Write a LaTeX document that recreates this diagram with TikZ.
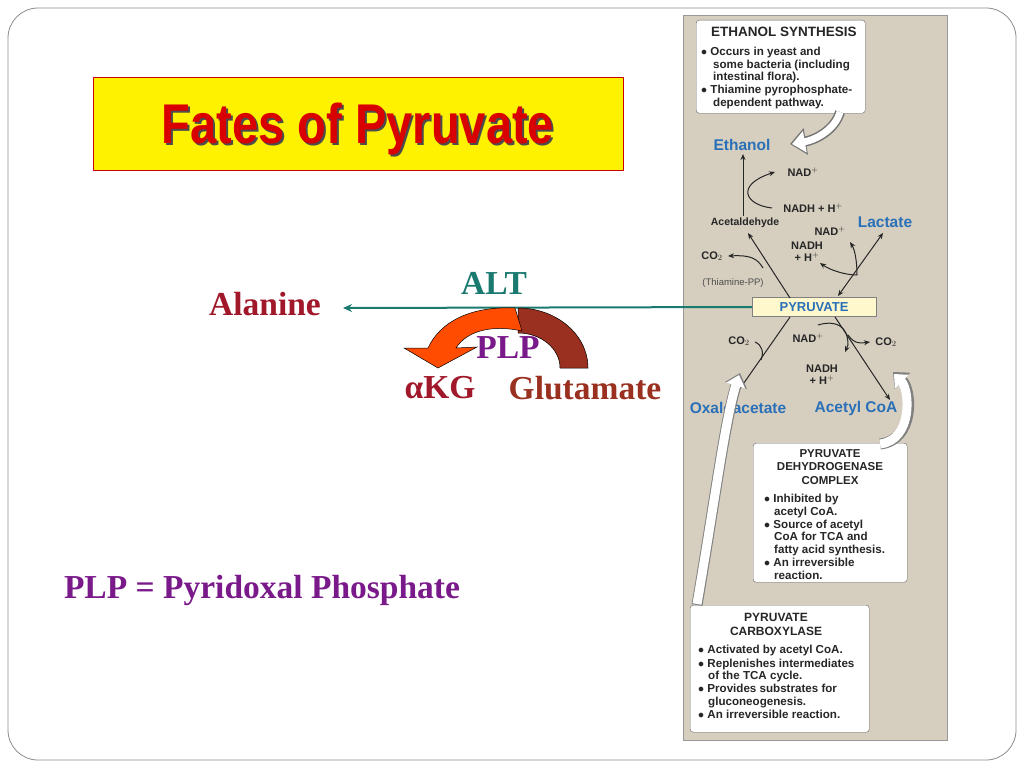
\documentclass[tikz,border=0pt]{standalone}
\usepackage{fontspec}
\setmainfont{Liberation Serif}
\setsansfont{Liberation Sans}
\usetikzlibrary{arrows.meta}
\definecolor{beige}{HTML}{D6CFC0}
\definecolor{teal2}{HTML}{1A7A70}
\definecolor{dred}{HTML}{A0182A}
\definecolor{brn}{HTML}{9A3020}
\definecolor{purp}{HTML}{7A1A8A}
\definecolor{pblue}{HTML}{2A70B8}
\definecolor{pyfill}{HTML}{FFF8CC}
\tikzset{
  pt/.style={font=\sffamily\bfseries\fontsize{11}{12}\selectfont, text=black!85, inner sep=0pt},
  bul/.style={font=\sffamily\bfseries\fontsize{11.6}{12.4}\selectfont, text=black!85, inner sep=0pt, anchor=north west, align=left},
  bl/.style={font=\sffamily\bfseries\fontsize{15.5}{16}\selectfont, text=pblue, inner sep=0pt},
  rx/.style={-{Stealth[length=6pt,width=5pt]}, line width=1pt, black!85},
  card/.style={fill=white, draw=black!60, rounded corners=3pt},
  big/.style={font=\bfseries\fontsize{33.5}{36}\selectfont, inner sep=0pt}
}
\begin{document}
\begin{tikzpicture}[x=1pt,y=-1pt]
\useasboundingbox (0,0) rectangle (1024,768);
\fill[white] (0,0) rectangle (1024,768);
\draw[black!45, line width=0.8pt, rounded corners=30pt] (8,8) rectangle (1016,760);
% title
\node[draw=red!80!black, fill=yellow, line width=0.8pt, minimum width=530pt, minimum height=93pt, anchor=north west] (title) at (93,77) {};
\node[text=black!70, font=\sffamily\bfseries\fontsize{56}{56}\selectfont, xscale=0.84] at (360,131) {Fates of Pyruvate};
\node[text=red!85!black, font=\sffamily\bfseries\fontsize{56}{56}\selectfont, xscale=0.84] (tt) at (358,129) {Fates of Pyruvate};
% panel
\fill[beige] (683,15) rectangle (947,740);
\draw[black!40] (683,15) rectangle (947,740);
% callout ethanol synthesis
\node[card, anchor=north west, minimum width=169pt, minimum height=93pt] (es) at (696,20) {};
\node[pt, anchor=north west, font=\sffamily\bfseries\fontsize{13.5}{14}\selectfont] (est) at (711,27) {ETHANOL SYNTHESIS};
\node[bul] (esb) at (701,47) {$\bullet$ Occurs in yeast and\\\hspace*{12pt}some bacteria (including\\\hspace*{12pt}intestinal flora).\\[1pt]$\bullet$ Thiamine pyrophosphate-\\\hspace*{12pt}dependent pathway.};
\coordinate (c1) at (840,112);
\draw[black!55, line width=10pt, -{Triangle[length=16pt,width=26pt]}] (c1) .. controls (835,130) and (815,140) .. (790,144);
\draw[white, line width=7pt, -{Triangle[length=13pt,width=21pt]}] (c1) .. controls (835,130) and (815,140) .. (792,144);
% labels
\node[bl] (eth) at (742,145) {Ethanol};
\node[pt] (nad1) at (803,172) {NAD$^+$};
\node[pt] (nadh1) at (813,208) {NADH + H$^+$};
\node[pt, font=\sffamily\bfseries\fontsize{10.5}{11}\selectfont] (acet) at (745,223) {Acetaldehyde};
\node[bl] (lac) at (885,222) {Lactate};
\node[pt] (nad2) at (830,231) {NAD$^+$};
\node[pt, align=center] (nadh2) at (807,252) {NADH\\+ H$^+$};
\node[pt] (co2a) at (712,256) {CO$_2$};
\node[pt, font=\sffamily\fontsize{9.5}{10}\selectfont, text=black!70] at (733,283) {(Thiamine-PP)};
\node[draw=black!50, fill=pyfill, minimum width=124pt, minimum height=19pt, inner sep=0pt, font=\sffamily\bfseries\fontsize{13}{14}\selectfont, text=pblue] (pyr) at (814,307) {PYRUVATE};
\node[pt] (co2b) at (739,341) {CO$_2$};
\node[pt] (nad3) at (808,338) {NAD$^+$};
\node[pt] (co2c) at (886,342) {CO$_2$};
\node[pt, align=center] (nadh3) at (822,375) {NADH\\+ H$^+$};
\node[bl] (oxa) at (738,408) {Oxaloacetate};
\node[bl] (acoa) at (856,408) {Acetyl CoA};
% arrows
\draw[rx] (790,298) -- (748,233);
\draw[rx] (743,216) -- (743,154);
\draw[rx] (772,208) .. controls (745,205) and (735,185) .. (775,172);
\draw[rx] (763,268) .. controls (757,258) and (750,255) .. (728,256);
\draw[{Stealth[length=6pt,width=5pt]}-{Stealth[length=6pt,width=5pt]}, line width=1pt, black!85] (838,296) -- (883,233);
\draw[rx] (857,275) .. controls (857,262) and (855,250) .. (850,242);
\draw[rx] (857,275) .. controls (845,275) and (830,270) .. (820,263);
\draw[rx] (790,317) -- (732,400);
\draw[rx] (835,317) -- (890,400);
\draw[line width=1pt, black!85] (755,342) .. controls (762,345) and (764,352) .. (761,360);
\draw[rx] (818,325) .. controls (835,320) and (848,325) .. (848,345) -- (845,352);
\draw[rx] (848,335) .. controls (855,345) and (862,343) .. (870,342);
% PDH card
\node[card, anchor=north west, minimum width=154pt, minimum height=139pt] (pdh) at (753,443) {};
\node[pt, align=center, font=\sffamily\bfseries\fontsize{11.5}{13.5}\selectfont] at (830,467) {PYRUVATE\\DEHYDROGENASE\\COMPLEX};
\node[bul] at (764,494) {$\bullet$ Inhibited by\\\hspace*{10pt}acetyl CoA.\\[1pt]$\bullet$ Source of acetyl\\\hspace*{10pt}CoA for TCA and\\\hspace*{10pt}fatty acid synthesis.\\[1pt]$\bullet$ An irreversible\\\hspace*{10pt}reaction.};
% PC card
\node[card, anchor=north west, minimum width=179pt, minimum height=127pt] (pc) at (690,605) {};
\node[pt, align=center, font=\sffamily\bfseries\fontsize{12}{14}\selectfont] at (776,624) {PYRUVATE\\CARBOXYLASE};
\node[bul] at (698,645) {$\bullet$ Activated by acetyl CoA.\\[1pt]$\bullet$ Replenishes intermediates\\\hspace*{10pt}of the TCA cycle.\\[1pt]$\bullet$ Provides substrates for\\\hspace*{10pt}gluconeogenesis.\\[1pt]$\bullet$ An irreversible reaction.};
% white fat arrows
\draw[black!50, line width=11pt, -{Triangle[length=13pt,width=22pt]}] (697,605) .. controls (715,500) and (725,420) .. (740,373);
\draw[white, line width=9pt, -{Triangle[length=11pt,width=19pt]}] (697,604) .. controls (715,500) and (725,420) .. (739,375);
\draw[black!50, line width=11pt, -{Triangle[length=13pt,width=22pt]}] (880,444) .. controls (915,440) and (912,390) .. (893,372);
\draw[white, line width=9pt, -{Triangle[length=11pt,width=19pt]}] (880,444) .. controls (913,440) and (910,390) .. (894,374);
% left part
\node[big, text=teal2] (alt) at (494,283) {ALT};
\node[big, text=dred] (ala) at (265,304) {Alanine};
\coordinate (alaend) at (343,308);
\draw[teal2, line width=2pt, -{Stealth[length=9pt,width=8pt]}] (pyr.west) -- (alaend);
% curved bands
\fill[brn, draw=black, line width=0.5pt] (560,368) -- (588,368) arc[start angle=0,end angle=90,x radius=70,y radius=-60] -- (518,333) arc[start angle=90,end angle=0,x radius=42,y radius=-35] -- cycle;
\fill[orange!60!red, draw=black, line width=0.5pt] (515,308) .. controls (470,306) and (440,322) .. (428,348) -- (404,348) -- (438,368) -- (477,347) -- (456,348) .. controls (466,332) and (490,324) .. (522,331) -- cycle;
\node[big, text=purp] (plp) at (508,348) {PLP};
\node[big, text=dred] (akg) at (440,388) {αKG};
\node[big, text=brn] (glu) at (585,388) {Glutamate};
\node[big, text=purp] (plpdef) at (262,590) {PLP = Pyridoxal Phosphate};
\end{tikzpicture}
\end{document}
